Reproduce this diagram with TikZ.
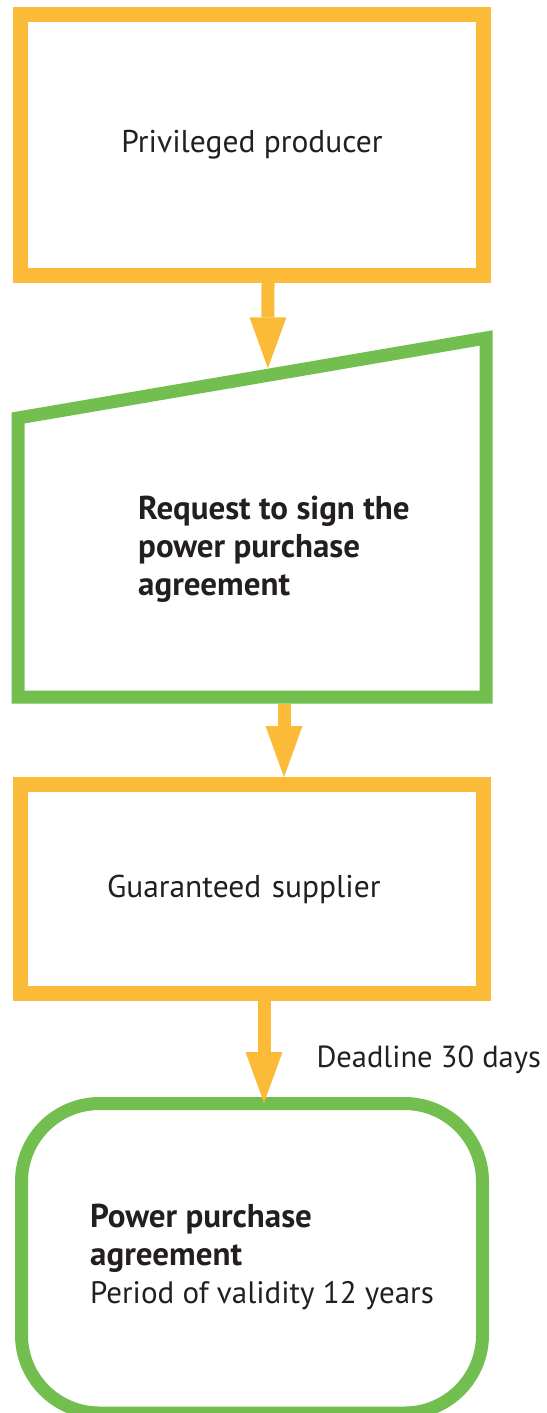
\documentclass[tikz,border=0pt]{standalone}
\usepackage{fontspec}
\setmainfont{PT Sans}
\usetikzlibrary{arrows.meta,positioning,calc}
\definecolor{stepyellow}{RGB}{252,186,57}
\definecolor{stepgreen}{RGB}{114,191,79}
\definecolor{inkblack}{RGB}{35,31,32}

\begin{document}
\begin{tikzpicture}[x=1pt, y=-1pt,
    ybox/.style={draw=stepyellow, line width=15pt, minimum width=463pt, text=inkblack, font=\fontsize{31.5pt}{38pt}\selectfont},
    gline/.style={draw=stepgreen, line width=13pt},
    txt/.style={align=left, inner sep=0pt, text=inkblack, font=\fontsize{31pt}{38pt}\selectfont},
    btxt/.style={txt, font=\fontsize{33pt}{38pt}\selectfont\bfseries},
    arr/.style={-{Triangle[length=51pt, width=37pt, line width=0pt]}, line width=13pt, draw=stepyellow}
]
\useasboundingbox (0,0) rectangle (546,1413);

\node[ybox, minimum height=261pt] (producer) at (252,145) {Privileged producer};

% slanted green input box
\node[minimum width=468pt, minimum height=359pt, inner sep=0pt, outer sep=0pt, below=55pt of producer] (request) {};
\coordinate (request corner) at ([yshift=-80pt]request.north west);
\draw[gline, line join=miter] (request.south west) -- (request.south east) -- (request.north east) -- (request corner) -- cycle;
\node[btxt, anchor=west] (requesttext) at ([xshift=120pt, yshift=-32pt]request.west) {Request to sign the\\power purchase\\agreement};

\node[ybox, minimum height=209pt, text width=290pt, align=left, below=80pt of request] (supplier) {Guaranteed supplier};

\node[gline, rounded corners=78pt, minimum width=461pt, minimum height=309.5pt, below=96pt of supplier] (agreement) {};
\node[txt, anchor=west] (agreementtext) at ([xshift=75pt, yshift=1pt]agreement.west)
    {{\fontsize{33pt}{38pt}\selectfont\bfseries Power purchase}\\{\fontsize{33pt}{38pt}\selectfont\bfseries agreement}\\Period of validity 12 years};

\coordinate (arrow1end) at ($($(request corner)!0.534!(request.north east)$) + (0,7pt)$);
\draw[arr] ([xshift=16pt]producer.south) -- (arrow1end);
\draw[arr] ([xshift=32pt, yshift=-6.5pt]request.south) -- ([xshift=32pt]supplier.north);
\draw[arr] ([xshift=12pt]supplier.south) -- ([xshift=12pt, yshift=-6pt]agreement.north)
    node[txt, font=\fontsize{30.5pt}{38pt}\selectfont, pos=0.58, anchor=west, xshift=46pt] (deadline) {Deadline 30 days};
\end{tikzpicture}
\end{document}
